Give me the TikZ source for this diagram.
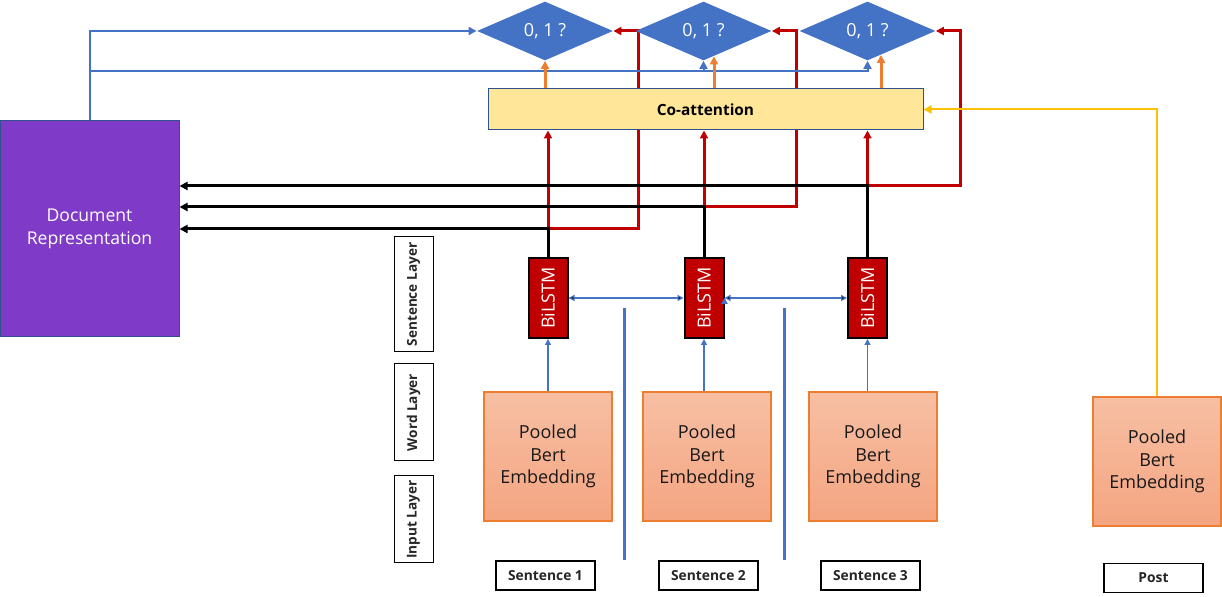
\documentclass[tikz,border=0pt]{standalone}
\usepackage{fontspec}
\usepackage{graphicx}
\setmainfont{Open Sans}
\usetikzlibrary{arrows.meta,shapes.geometric,positioning,calc,backgrounds}
\definecolor{docpurple}{RGB}{127,59,200}
\definecolor{edgeblue}{RGB}{47,82,143}
\definecolor{offblue}{RGB}{68,114,196}
\definecolor{offred}{RGB}{192,0,0}
\definecolor{offorange}{RGB}{237,125,49}
\definecolor{offyellow}{RGB}{255,192,0}
\definecolor{attnfill}{RGB}{255,230,153}
\definecolor{berttop}{RGB}{247,191,163}
\definecolor{bertbot}{RGB}{244,165,129}
\definecolor{labelgray}{RGB}{38,38,38}
\tikzset{
    doc/.style =    {rectangle,
                    fill=docpurple,
                    draw=edgeblue,
                    line width=0.5pt,
                    text=white,
                    align=center,
                    inner sep=0pt,
                    font=\fontsize{8.8}{11.8}\selectfont},
    dec/.style =    {diamond,
                    fill=offblue,
                    draw=none,
                    text=white,
                    inner sep=0pt,
                    minimum width=68pt,
                    minimum height=29.5pt,
                    font=\fontsize{9}{11}\selectfont},
    att/.style =    {rectangle,
                    fill=attnfill,
                    draw=edgeblue,
                    line width=0.5pt,
                    text=black,
                    inner sep=0pt,
                    minimum width=217.5pt,
                    minimum height=20.5pt,
                    font=\fontsize{7.7}{9}\selectfont\bfseries},
    lstm/.style =   {rectangle,
                    fill=offred,
                    draw=black,
                    line width=1pt,
                    text=white,
                    inner sep=0pt,
                    minimum width=19.5pt,
                    minimum height=40pt,
                    font=\fontsize{9}{10}\selectfont},
    bert/.style =   {rectangle,
                    top color=berttop,
                    bottom color=bertbot,
                    draw=offorange,
                    line width=0.6pt,
                    text=black!90,
                    align=center,
                    inner sep=0pt,
                    minimum width=64pt,
                    minimum height=64.5pt,
                    font=\fontsize{9}{11.2}\selectfont},
    tag/.style =    {rectangle,
                    fill=white,
                    draw=black,
                    line width=0.6pt,
                    text=labelgray,
                    inner sep=0pt,
                    minimum width=49.5pt,
                    minimum height=14.5pt,
                    font=\fontsize{6.9}{8}\selectfont\bfseries},
    layer/.style =  {rectangle,
                    fill=white,
                    draw=black,
                    line width=0.5pt,
                    text=labelgray,
                    inner sep=0pt,
                    rotate=90,
                    minimum height=19.5pt,
                    font=\fontsize{6.8}{8}\selectfont\bfseries},
    -,
    wire/.style =     {draw=black, line width=1.5pt},
    redwire/.style =  {draw=offred, line width=1.5pt},
    docwire/.style =  {draw=offblue, line width=1pt},
    attwire/.style =  {draw=offorange, line width=1.5pt},
    postwire/.style = {draw=offyellow, line width=1pt},
    seqwire/.style =  {draw=offblue, line width=0.6pt},
    sep/.style =      {draw=offblue, line width=1.5pt},
    >={Triangle[length=4pt,width=4pt]}}

\begin{document}
\begin{tikzpicture}[x=0.5pt,y=-0.5pt]
    \useasboundingbox (0,0) rectangle (1222,597);
    % main blocks
    \node[doc, minimum width=89.5pt, minimum height=108pt] (Doc) at (89.5,229) {Document\\Representation};
    \node[att]  (CA) at (705.5,109.5) {Co-attention};
    \foreach \n/\x in {1/545,2/703.5,3/867.5}
        \node[dec] (D\n) at (\x,31) {0, 1 ?};
    \foreach \n/\x in {1/548,2/704,3/867.5}
        \node[lstm] (B\n) at (\x,298) {\rotatebox{90}{BiLSTM}};
    \foreach \n/\x in {1/548,2/707,3/873}
        \node[bert] (P\n) at (\x,456.5) {Pooled\\Bert\\Embedding};
    \node[bert] (Post) at (1157,461.5) {Pooled\\Bert\\Embedding};
    % labels
    \foreach \n/\x in {1/545.5,2/708.5,3/870.5}
        \node[tag] (S\n) at (\x,575.5) {Sentence \n};
    \node[tag] (PostTag) at (1153.5,578) {Post};
    \node[layer, minimum width=57.5pt] (LS) at (413.5,294.5) {Sentence Layer};
    \node[layer, minimum width=48.5pt] (LW) at (413.5,412.5) {Word Layer};
    \node[layer, minimum width=43.5pt] (LI) at (413.5,519.5) {Input Layer};
    % separators
    \draw[sep] (624,308) -- (624,560);
    \draw[sep] (784,308) -- (784,560);
    % connectors
    \begin{pgfonlayer}{background}
        \foreach \n/\y/\d in {1/229/90,2/207/92,3/186/93} {
            \coordinate (J\n) at (B\n.north |- 0,\y);
            \draw[redwire,->] (J\n) -- (CA.south -| J\n);
            \draw[redwire,->] (J\n) -- ++(\d,0) |- (D\n.east);
            \draw[wire,->]    (B\n.north) -- (J\n) -- (Doc.east |- J\n);
        }
        \draw[docwire,->] (Doc.north) |- (D1.west);
        \coordinate (R) at (Doc.north |- 0,71);
        \draw[docwire,->] (R) -| (D3.south);
        \draw[docwire,->] (D2.south |- R) -- (D2.south);
        \coordinate (O2) at ($(D2.south)+(10.5,-4.5)$);
        \coordinate (O3) at ($(D3.south)+(13.5,-5.9)$);
        \draw[attwire,->] (CA.north -| D1.south) -- (D1.south);
        \draw[attwire,->] (CA.north -| O2) -- (O2);
        \draw[attwire,->] (CA.north -| O3) -- (O3);
        \draw[postwire,->] (Post.north) |- (CA.east);
    \end{pgfonlayer}
    \path [seqwire,<->, >={Triangle[length=3pt,width=3pt]}]
        (B1.east) edge (B2.west)
        (B2.east) edge (B3.west);
    \foreach \n in {1,2,3}
        \draw[seqwire,->, >={Triangle[length=3pt,width=3pt]}] (P\n.north -| B\n.south) -- (B\n.south);
\end{tikzpicture}
\end{document}
